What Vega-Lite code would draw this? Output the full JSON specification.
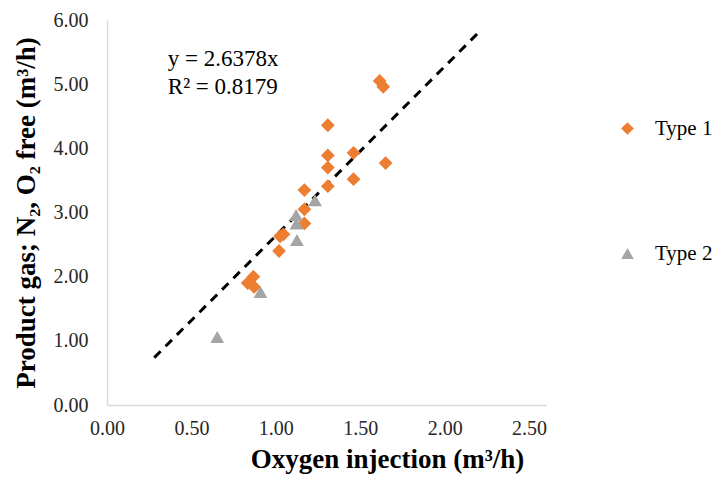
{
  "$schema": "https://vega.github.io/schema/vega-lite/v6.json",
  "width": 439,
  "height": 385,
  "autosize": {"type": "none"},
  "padding": {"left": 107, "top": 20, "right": 169, "bottom": 80},
  "background": "white",
  "config": {
    "view": {"stroke": null},
    "font": "Liberation Serif",
    "axis": {"grid": false, "ticks": false, "labelFlush": false, "domainColor": "#d9d9d9", "domainWidth": 1.3, "labelFont": "Liberation Serif", "labelFontSize": 20, "labelColor": "#262626", "titleFont": "Liberation Serif", "titleFontSize": 27, "titleFontWeight": "bold", "titleColor": "#000000"}
  },
  "layer": [
    {
      "data": {"values": [
        {"x": 0.28, "y": 0.739},
        {"x": 2.22, "y": 5.856}
      ]},
      "mark": {"type": "line", "color": "#000000", "strokeWidth": 3, "strokeDash": [9, 7]},
      "encoding": {
        "x": {"field": "x", "type": "quantitative", "scale": {"domain": [0, 2.5]}, "axis": {"values": [0, 0.5, 1, 1.5, 2, 2.5], "format": ".2f", "labelPadding": 13, "title": "Oxygen injection (m³/h)", "titlePadding": 8, "titleX": 280}},
        "y": {"field": "y", "type": "quantitative", "scale": {"domain": [0, 6]}, "axis": {"values": [0, 1, 2, 3, 4, 5, 6], "format": ".2f", "labelPadding": 19, "title": "Product gas; N₂, O₂ free (m³/h)", "titlePadding": 13}}
      }
    },
    {
      "data": {"values": [
        {"x": 1.615, "y": 5.05, "type": "Type 1"},
        {"x": 1.636, "y": 4.96, "type": "Type 1"},
        {"x": 1.308, "y": 4.36, "type": "Type 1"},
        {"x": 1.308, "y": 3.89, "type": "Type 1"},
        {"x": 1.46, "y": 3.93, "type": "Type 1"},
        {"x": 1.308, "y": 3.70, "type": "Type 1"},
        {"x": 1.65, "y": 3.77, "type": "Type 1"},
        {"x": 1.46, "y": 3.52, "type": "Type 1"},
        {"x": 1.308, "y": 3.41, "type": "Type 1"},
        {"x": 1.169, "y": 3.35, "type": "Type 1"},
        {"x": 1.169, "y": 3.05, "type": "Type 1"},
        {"x": 1.169, "y": 2.83, "type": "Type 1"},
        {"x": 1.045, "y": 2.66, "type": "Type 1"},
        {"x": 1.025, "y": 2.63, "type": "Type 1"},
        {"x": 1.019, "y": 2.40, "type": "Type 1"},
        {"x": 0.867, "y": 2.00, "type": "Type 1"},
        {"x": 0.833, "y": 1.90, "type": "Type 1"},
        {"x": 0.871, "y": 1.84, "type": "Type 1"},
        {"x": 1.232, "y": 3.19, "type": "Type 2"},
        {"x": 1.12, "y": 2.96, "type": "Type 2"},
        {"x": 1.122, "y": 2.83, "type": "Type 2"},
        {"x": 1.125, "y": 2.57, "type": "Type 2"},
        {"x": 0.909, "y": 1.76, "type": "Type 2"},
        {"x": 0.653, "y": 1.06, "type": "Type 2"}
      ]},
      "mark": {"type": "point", "filled": true, "opacity": 1, "size": 190},
      "encoding": {
        "x": {"field": "x", "type": "quantitative"},
        "y": {"field": "y", "type": "quantitative"},
        "color": {"field": "type", "type": "nominal", "scale": {"domain": ["Type 1", "Type 2"], "range": ["#ED7D31", "#A5A5A5"]}, "legend": {"title": null, "orient": "none", "legendX": 510, "legendY": 98, "labelFont": "Liberation Serif", "labelFontSize": 21, "labelColor": "#000000", "rowPadding": 103, "symbolSize": 160, "labelOffset": 17}},
        "shape": {"field": "type", "type": "nominal", "scale": {"domain": ["Type 1", "Type 2"], "range": ["diamond", "triangle-up"]}, "legend": {"title": null, "orient": "none", "legendX": 510, "legendY": 98, "labelFont": "Liberation Serif", "labelFontSize": 21, "labelColor": "#000000", "rowPadding": 103, "symbolSize": 160, "labelOffset": 17}}
      }
    },
    {
      "data": {"values": [
        {"x": 0.36, "y": 5.40, "label": "y = 2.6378x"},
        {"x": 0.36, "y": 4.96, "label": "R² = 0.8179"}
      ]},
      "mark": {"type": "text", "align": "left", "baseline": "middle", "font": "Liberation Serif", "fontSize": 23, "color": "#000000"},
      "encoding": {
        "x": {"field": "x", "type": "quantitative"},
        "y": {"field": "y", "type": "quantitative"},
        "text": {"field": "label", "type": "nominal"}
      }
    }
  ]
}
